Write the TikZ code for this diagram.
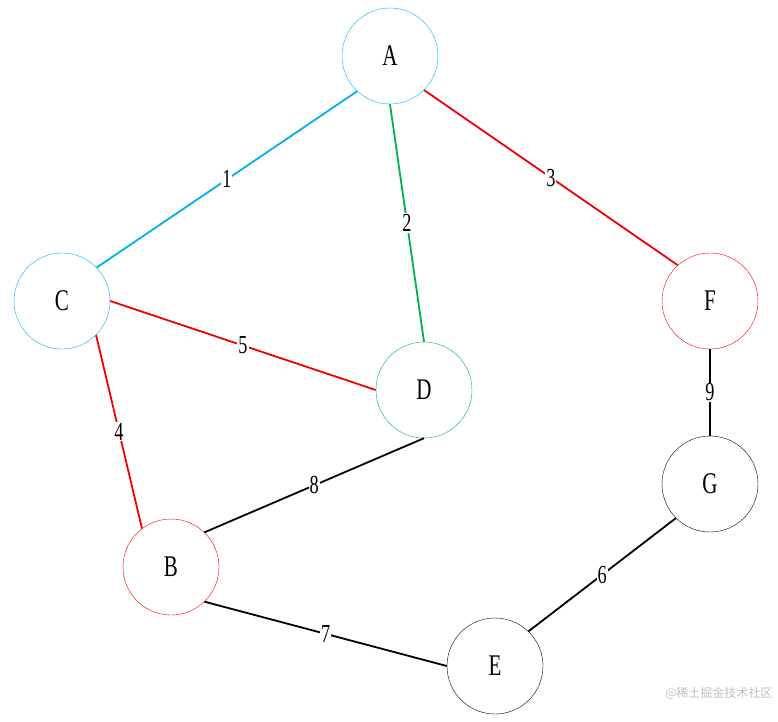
\documentclass[tikz,border=0pt]{standalone}
\usepackage{fontspec}
\setmainfont{Liberation Serif}
\newfontfamily\cjk{Noto Sans CJK SC}
\begin{document}
\begin{tikzpicture}[x=1pt,y=-1pt]
\definecolor{cy}{RGB}{0,176,240}
\definecolor{gr}{RGB}{0,176,80}
\definecolor{rd}{RGB}{240,0,0}
\tikzset{vert/.style={circle,draw,minimum size=96pt,inner sep=0pt,font=\fontsize{30}{30}\selectfont},
 edge/.style={line width=1.8pt},
 lab/.style={fill=white,inner sep=1pt,font=\fontsize{26}{26}\selectfont}}
\newcommand\nar[1]{\scalebox{0.7}[1]{#1}}
\useasboundingbox (0,0) rectangle (778,721);
\node[vert,draw=cy] (A) at (390,56) {\nar{A}};
\node[vert,draw=cy] (C) at (62,301) {\nar{C}};
\node[vert,draw=gr] (D) at (424,390) {\nar{D}};
\node[vert,draw=rd] (F) at (710,301) {\nar{F}};
\node[vert,draw=black] (G) at (710,484) {\nar{G}};
\node[vert,draw=rd] (B) at (171,567) {\nar{B}};
\node[vert,draw=black] (E) at (495,666) {\nar{E}};
\draw[edge,cy] (A.227) -- node[lab,text=black]{\nar{1}} (C.44);
\draw[edge,gr] (A.270) -- node[lab,text=black,pos=0.5]{\nar{2}} (D.90);
\draw[edge,rd] (A.-45) -- node[lab,text=black]{\nar{3}} (F.132);
\draw[edge,rd] (C.0) -- node[lab,text=black,pos=0.5]{\nar{5}} (D.180);
\draw[edge,rd] (C.-45) -- node[lab,text=black]{\nar{4}} (B.127);
\draw[edge] (D.270) -- node[lab]{\nar{8}} (B.46);
\draw[edge] (F.270) -- node[lab]{\nar{9}} (G.90);
\draw[edge] (B.-46) -- node[lab]{\nar{7}} (E.180);
\draw[edge] (G.225) -- node[lab]{\nar{6}} (E.46);
\node[anchor=east,text=black!25,font=\cjk\fontsize{12}{12}\selectfont] (wm) at (776,693) {@稀土掘金技术社区};
\end{tikzpicture}
\end{document}
